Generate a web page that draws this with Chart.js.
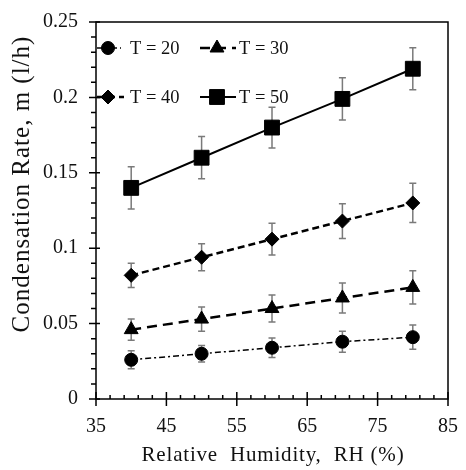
<!DOCTYPE html>
<html>
<head>
<meta charset="utf-8">
<script src="https://cdn.jsdelivr.net/npm/chart.js@4.4.0/dist/chart.umd.min.js"></script>
<style>
  html, body { margin: 0; padding: 0; background: #fff; }
  #wrap { width: 466px; height: 470px; }
</style>
</head>
<body>
<div id="wrap"><canvas id="graf"></canvas></div>
<script>
// relative humidity (%) on the x axis
const rh = [40, 50, 60, 70, 80];

// condensation rate (l/h) per temperature, with error bar half-heights
const t20 = [0.026, 0.030, 0.034, 0.038, 0.041];
const t20Err = [0.006, 0.0055, 0.0065, 0.007, 0.008];
const t30 = [0.046, 0.053, 0.060, 0.067, 0.074];
const t30Err = [0.007, 0.008, 0.009, 0.010, 0.011];
const t40 = [0.082, 0.094, 0.106, 0.118, 0.130];
const t40Err = [0.008, 0.009, 0.0105, 0.0115, 0.013];
const t50 = [0.140, 0.160, 0.180, 0.199, 0.219];
const t50Err = [0.014, 0.014, 0.0135, 0.014, 0.014];

const labels = ['T = 20', 'T = 30', 'T = 40', 'T = 50'];
const xTicks = [35, 45, 55, 65, 75, 85];
const yTicks = [0, 0.05, 0.1, 0.15, 0.2, 0.25];
const xMinorStep = 2;
const yMinorStep = 0.01;
const xTitle = 'Relative  Humidity,  RH (%)';
const yTitle = 'Condensation Rate, m (l/h)';

const font = 'Liberation Serif, Times New Roman, serif';

function pts(vals) {
    return rh.map((x, i) => ({ x: x, y: vals[i] }));
}

const sady = [
    { label: labels[0], data: pts(t20), err: t20Err, pointStyle: 'circle', pointRadius: 6.5, borderWidth: 1.5, borderDash: [6, 3, 2, 3] },
    { label: labels[1], data: pts(t30), err: t30Err, pointStyle: 'triangle', pointRadius: 8, borderWidth: 2.5, borderDash: [10, 6] },
    { label: labels[2], data: pts(t40), err: t40Err, pointStyle: 'rectRot', pointRadius: 7, borderWidth: 2.5, borderDash: [7, 4] },
    { label: labels[3], data: pts(t50), err: t50Err, pointStyle: 'rect', pointRadius: 10.5, borderWidth: 2, borderDash: [] }
].map(d => Object.assign(d, {
    borderColor: '#000',
    backgroundColor: '#000',
    pointBackgroundColor: '#000',
    pointBorderColor: '#000',
    pointBorderWidth: 1,
    fill: false,
    tension: 0
}));

// error bars, drawn under the markers
const errorBars = {
    id: 'errorBars',
    beforeDatasetsDraw(chart) {
        const { ctx, scales: { x, y } } = chart;
        ctx.save();
        ctx.strokeStyle = '#7a7a7a';
        ctx.lineWidth = 1.5;
        chart.data.datasets.forEach(ds => {
            ds.data.forEach((p, i) => {
                const px = x.getPixelForValue(p.x);
                const top = y.getPixelForValue(p.y + ds.err[i]);
                const bot = y.getPixelForValue(p.y - ds.err[i]);
                ctx.beginPath();
                ctx.moveTo(px, top); ctx.lineTo(px, bot);
                ctx.moveTo(px - 3.5, top); ctx.lineTo(px + 3.5, top);
                ctx.moveTo(px - 3.5, bot); ctx.lineTo(px + 3.5, bot);
                ctx.stroke();
            });
        });
        ctx.restore();
    }
};

// box, tick marks, legend and axis titles
const frame = {
    id: 'frame',
    afterDraw(chart) {
        const { ctx, chartArea: a, scales: { x, y } } = chart;
        ctx.save();
        ctx.strokeStyle = '#000';
        ctx.lineWidth = 1.5;
        ctx.strokeRect(a.left, a.top, a.right - a.left, a.bottom - a.top);

        ctx.beginPath();
        for (let v = x.min; v <= x.max + 1e-9; v += xMinorStep) {
            const px = x.getPixelForValue(v);
            ctx.moveTo(px, a.bottom - 4); ctx.lineTo(px, a.bottom);
        }
        xTicks.forEach(v => {
            const px = x.getPixelForValue(v);
            ctx.moveTo(px, a.bottom - 7); ctx.lineTo(px, a.bottom + 7);
        });
        for (let v = y.min; v <= y.max + 1e-9; v += yMinorStep) {
            const py = y.getPixelForValue(v);
            ctx.moveTo(a.left - 5, py); ctx.lineTo(a.left, py);
        }
        yTicks.forEach(v => {
            const py = y.getPixelForValue(v);
            ctx.moveTo(a.left - 7, py); ctx.lineTo(a.left + 4, py);
        });
        ctx.stroke();

        // legend
        const spots = [
            { x0: a.left + 1, x1: a.left + 25, mx: a.left + 12, ty: a.top + 26 },
            { x0: a.left + 104, x1: a.left + 140, mx: a.left + 121, ty: a.top + 26 },
            { x0: a.left + 1, x1: a.left + 28, mx: a.left + 12, ty: a.top + 75 },
            { x0: a.left + 104, x1: a.left + 140, mx: a.left + 121, ty: a.top + 75 }
        ];
        chart.data.datasets.forEach((ds, i) => {
            const s = spots[i];
            ctx.strokeStyle = '#000';
            ctx.fillStyle = '#000';
            ctx.lineWidth = ds.borderWidth;
            ctx.setLineDash(ds.borderDash);
            ctx.beginPath();
            ctx.moveTo(s.x0, s.ty); ctx.lineTo(s.x1, s.ty);
            ctx.stroke();
            ctx.setLineDash([]);
            ctx.lineWidth = 1;
            Chart.helpers.drawPoint(ctx, { pointStyle: ds.pointStyle, radius: ds.pointRadius, borderWidth: 1, rotation: 0 }, s.mx, s.ty);
            ctx.font = '18.5px ' + font;
            ctx.textAlign = 'left';
            ctx.textBaseline = 'middle';
            ctx.fillStyle = '#111';
            ctx.fillText(ds.label, i % 2 === 0 ? a.left + 34 : a.left + 143, s.ty + 1);
        });

        ctx.fillStyle = '#111';
        ctx.textAlign = 'center';
        ctx.textBaseline = 'alphabetic';
        ctx.font = '21px ' + font;
        ctx.letterSpacing = '0.8px';
        ctx.fillText(xTitle, (a.left + a.right) / 2 + 1, 461);

        ctx.translate(29, 184);
        ctx.rotate(-Math.PI / 2);
        ctx.font = '25px ' + font;
        ctx.letterSpacing = '1px';
        ctx.fillText(yTitle, 0, 0);
        ctx.restore();
    }
};

const ctx = document.getElementById('graf').getContext('2d');
new Chart(ctx, {
    type: 'line',
    data: { datasets: sady },
    plugins: [errorBars, frame],
    options: {
        responsive: true,
        maintainAspectRatio: false,
        animation: false,
        layout: { padding: { top: 17, right: 15, left: 0, bottom: 0 } },
        plugins: { legend: { display: false }, tooltip: { enabled: false } },
        scales: {
            x: {
                type: 'linear',
                min: 35, max: 85,
                afterFit: s => { s.height = 71; },
                afterBuildTicks: s => { s.ticks = xTicks.map(v => ({ value: v })); },
                grid: { display: false },
                border: { display: false },
                ticks: { color: '#111', font: { family: font, size: 20 }, padding: 8 }
            },
            y: {
                min: 0, max: 0.25,
                afterFit: s => { s.width = 96; },
                afterBuildTicks: s => { s.ticks = yTicks.map(v => ({ value: v })); },
                grid: { display: false },
                border: { display: false },
                ticks: { color: '#111', font: { family: font, size: 20 }, padding: 10, callback: v => String(Math.round(v * 100) / 100) }
            }
        }
    }
});
</script>
</body>
</html>
